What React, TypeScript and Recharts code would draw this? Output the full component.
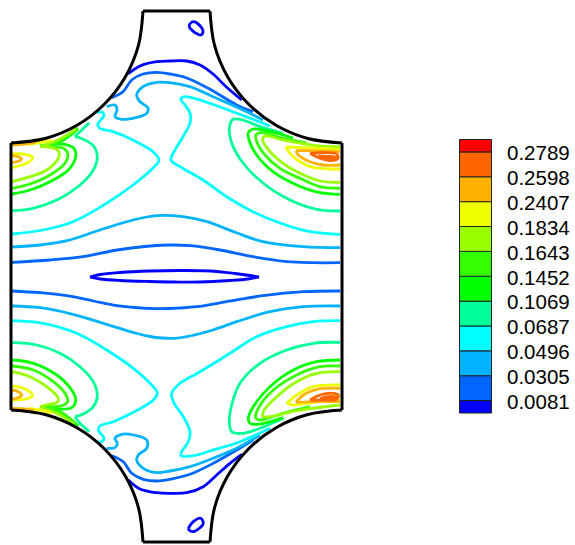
import React from 'react';
import { ScatterChart, Scatter, XAxis, YAxis, BarChart, Bar, Curve } from 'recharts';

type Pt = [number, number];

// contour level colours
const BLUE = '#0000ff';
const AZURE = '#0066ff';
const SKY = '#00b3ff';
const CYAN = '#00ffff';
const MINT = '#00ff99';
const GREEN = '#00ff00';
const LIME = '#33ff00';
const OLIVE = '#99ff00';
const YELLOW = '#eeff00';
const AMBER = '#ffb300';
const ORANGE = '#ff6600';
const RED = '#ff0000';

// colour bar
const barColors = [BLUE, AZURE, SKY, CYAN, MINT, GREEN, LIME, OLIVE, YELLOW, AMBER, ORANGE, RED];
const barBands = [0.5, 1, 1, 1, 1, 1, 1, 1, 1, 1, 1, 0.5];
const barLabels = ['0.0081', '0.0305', '0.0496', '0.0687', '0.1069', '0.1452', '0.1643', '0.1834', '0.2407', '0.2598', '0.2789'];
const barTicks = [0.5, 1.5, 2.5, 3.5, 4.5, 5.5, 6.5, 7.5, 8.5, 9.5, 10.5];

// outline of the domain, in the plot's own units
const rimTop: Pt[] = [[143, 11], [210, 11]];
const rimBottom: Pt[] = [[143, 542], [210, 542]];
const sideLeft: Pt[] = [[11, 143], [11, 410]];
const sideRight: Pt[] = [[342, 143], [342, 410]];
const arcTopLeft: Pt[] = [[143, 11], [138.5, 45.2], [125.3, 77], [104.3, 104.3], [77, 125.3], [45.2, 138.5], [11, 143]];
const arcTopRight: Pt[] = [[210, 11], [214.5, 45.2], [227.7, 77], [248.7, 104.3], [276, 125.3], [307.8, 138.5], [342, 143]];
const arcBottomLeft: Pt[] = [[143, 542], [138.5, 507.8], [125.3, 476], [104.3, 448.7], [77, 427.7], [45.2, 414.5], [11, 410]];
const arcBottomRight: Pt[] = [[210, 542], [214.5, 507.8], [227.7, 476], [248.7, 448.7], [276, 427.7], [307.8, 414.5], [342, 410]];

// centre lens
const lensTop: Pt[] = [[90, 277], [100, 274.5], [120, 272.5], [150, 271], [180, 270.5], [210, 271], [235, 273.5], [250, 275.5], [259, 277]];
const lensBottom: Pt[] = [[259, 277], [248, 279], [230, 280.5], [200, 282], [175, 282], [150, 281.5], [120, 280.5], [100, 279], [90, 277]];

// level 0.0081
const blueTop: Pt[] = [[128, 74], [140, 66], [156.7, 61.7], [170, 61], [186.7, 61], [200, 65], [213, 74], [226.7, 87.3], [241.7, 100]];
const blueBottom: Pt[] = [[128.3, 480], [140, 489], [156.7, 492.7], [170, 493.3], [186.7, 492.7], [203.3, 486.7], [216.7, 475], [230, 463.3], [241.7, 454.3]];
const loopTop: Pt[] = [[190, 28.3], [189.3, 25], [193.3, 21.7], [199.3, 25], [203, 31.7], [200.7, 35], [195, 32.7], [190, 28.3]];
const loopBottom: Pt[] = [[188.3, 528.3], [193.3, 521.7], [200.7, 518.3], [203.3, 523.3], [199.3, 528.3], [193.3, 531.7], [189, 530], [188.3, 528.3]];

// level 0.0305
const azureMidTop: Pt[] = [[12, 262.3], [50, 260], [83, 256.7], [117, 250], [150, 246], [170, 245], [190, 245.7], [220, 250], [253, 256.7], [287, 261.7], [313, 262.7], [340, 262.7]];
const azureMidBottom: Pt[] = [[12, 291], [40, 292.7], [66.7, 295.7], [93.3, 301], [116.7, 305.7], [146.7, 308.3], [170, 308.5], [196.7, 306.7], [226.7, 301.7], [263, 295.7], [303, 291.7], [340, 291]];
const azureTop: Pt[] = [[111.7, 97.7], [123, 91.7], [131.7, 80], [143, 74], [156.7, 72.3], [170, 74], [186.7, 78], [210, 89.3], [236.7, 105], [253, 111.7]];
const azureBottom: Pt[] = [[111.7, 455.7], [123.3, 461.7], [131.7, 473.3], [143.3, 479.3], [156.7, 481], [170, 479.3], [190, 474.3], [213.3, 463.3], [236.7, 450], [253.3, 440]];

// level 0.0496
const skyMidTop: Pt[] = [[12, 247], [40, 245], [67, 240.7], [100, 230], [133, 220], [157, 215.7], [183, 216.7], [207, 221.7], [237, 233], [263, 241.7], [303, 246.7], [340, 247.7]];
const skyMidBottom: Pt[] = [[12, 306], [40, 307.7], [73, 314.3], [106.7, 324.3], [135, 333], [150, 336.5], [162, 338], [175, 338.3], [190, 336], [213, 330], [236.7, 321.7], [270, 311.7], [303, 306.7], [340, 306]];
const skyTop: Pt[] = [[106.7, 106.7], [115, 105], [117, 110], [115, 116.7], [121.7, 119.3], [136.7, 117.3], [146.7, 113.3], [148, 108], [140, 101.7], [136.7, 95], [143, 86.7], [156.7, 82.3], [170, 82.7], [190, 86.7], [213, 96.7], [243, 110], [263, 120]];
const skyBottom: Pt[] = [[106.7, 448.3], [115, 447.7], [117.3, 443.3], [115, 438.3], [121.7, 434.3], [133.3, 435], [146.7, 440], [146.7, 448.3], [138.3, 455], [136.7, 460], [143.3, 468.3], [156.7, 472.7], [170, 471], [190, 466.7], [213, 458.3], [236.7, 448.3], [260, 435]];

// level 0.0687
const cyanTopLeft: Pt[] = [[12, 234], [43, 230], [73, 221.7], [107, 203], [133, 185], [153, 168], [159, 160], [153, 151.7], [133, 140], [113, 131.7], [100, 128.3], [97.7, 125], [104, 115], [101.7, 112], [97, 113]];
const cyanTopRight: Pt[] = [[340, 234.3], [310, 231.7], [280, 223], [253, 211.7], [226.7, 196.7], [203, 180], [180, 166.7], [171, 160], [175, 150], [183, 136.7], [190, 123], [190, 113], [185, 105], [180.7, 99], [185, 96.7], [203, 101], [237, 113.3], [270, 126]];
const cyanBottomLeft: Pt[] = [[12, 320.7], [43.3, 323.3], [76.7, 333.3], [106.7, 350], [133.3, 368.3], [153.3, 386.7], [157.3, 392.7], [153.3, 400], [133.3, 412.3], [113.3, 421.7], [100, 426], [98.3, 430], [104, 438.3], [101.7, 441.7], [96.7, 441.7]];
const cyanBottomRight: Pt[] = [[340, 320.7], [313, 321.7], [286.7, 326.7], [256.7, 336.7], [230, 353.3], [200, 371.7], [180, 383.3], [171.7, 393.3], [173.3, 401.7], [183.3, 416.7], [190, 431.7], [188.3, 441.7], [181.7, 451.7], [181, 455.7], [193.3, 455.7], [213.3, 450], [240, 441.7], [270, 428.3]];

// level 0.1069
const mintTopLeft: Pt[] = [[12, 210.7], [33, 208.3], [56.7, 200], [80, 185], [93.3, 170], [97.3, 156.7], [93.3, 145.7], [83.3, 139.3], [75, 136.7]];
const mintTopLeftTail: Pt[] = [[75, 136.7], [80, 131.7], [89.3, 122.7]];
const mintTopRight: Pt[] = [[340, 211], [316.7, 209.3], [290, 200], [263, 183], [243, 163], [231.7, 143], [229.3, 128.3], [233, 119.3], [243, 120], [260, 126.7], [283, 133.3]];
const mintBottomLeft: Pt[] = [[12, 342.7], [36.7, 345], [60, 353.3], [80, 366.7], [93.3, 381.7], [97.3, 396.7], [93.3, 406.7], [83.3, 414], [75, 416.7]];
const mintBottomLeftTail: Pt[] = [[75, 416.7], [80, 423.3], [89.3, 431.7]];
const mintBottomRight: Pt[] = [[340, 342.3], [313.3, 343.3], [286.7, 350], [260, 363.3], [240, 383.3], [231.7, 405], [229.3, 421.7], [231.7, 431.7], [243.3, 433.3], [260, 428.3], [283.3, 418.3]];

// level 0.1452
const greenTopLeft: Pt[] = [[12, 194], [30, 190], [50, 181.7], [68.3, 170], [75.7, 156.7], [74, 148.3], [65, 144.3], [50, 144.3], [40, 146]];
const greenTopLeftTail: Pt[] = [[40, 146], [60, 142], [78, 129]];
const greenTopRight: Pt[] = [[340, 194.3], [320, 192.7], [296.7, 185], [273, 171.7], [256.7, 155], [249, 140], [248.3, 132.7], [253.3, 129], [266.7, 130.7], [293, 138]];
const greenBottomLeft: Pt[] = [[12, 360], [33.3, 363.3], [56.7, 375], [71.7, 390], [75.7, 400], [71.7, 407.7], [56.7, 409], [40, 406.7]];
const greenBottomLeftTail: Pt[] = [[40, 406.7], [60, 411.7], [78.3, 426]];
const greenBottomRight: Pt[] = [[340, 360], [316.7, 361.7], [293.3, 370], [270, 386.7], [253.3, 406.7], [248.3, 418.3], [250, 423.3], [258.3, 424.3], [283.3, 417.7]];

// level 0.1643
const limeTopLeft: Pt[] = [[12, 188.3], [30, 184], [50, 175], [65, 163.3], [67.7, 153.3], [63.3, 148.3], [53.3, 146.7], [41.7, 146.7]];
const limeTopLeftTail: Pt[] = [[41.7, 146.7], [53, 144], [66, 136], [78, 128]];
const limeTopRight: Pt[] = [[340, 188.3], [320, 186.7], [300, 178.3], [280, 168.3], [265, 155], [256.7, 141.7], [256, 135], [261.7, 132.7], [283, 138.3], [306.7, 143]];
const limeBottomLeft: Pt[] = [[12, 366], [33.3, 370], [53.3, 381.7], [65, 393.3], [67.7, 401.7], [61.7, 405.7], [50, 406.7], [40, 406.7]];
const limeBottomLeftTail: Pt[] = [[40, 406.7], [54, 409], [66, 416], [77, 425]];
const limeBottomRight: Pt[] = [[340, 366], [316.7, 367.3], [296.7, 375], [273.3, 390], [258.3, 408.3], [255.7, 417.7], [260, 420], [283.3, 413.3], [310, 406.7]];

// level 0.1834
const oliveTopLeft: Pt[] = [[12, 181.7], [30, 176.7], [46.7, 170], [58.3, 158.3], [58.3, 150.7], [50, 147.3], [40, 146.7]];
const oliveTopLeftTail: Pt[] = [[40, 146.7], [60, 139], [76, 129]];
const oliveTopRight: Pt[] = [[340, 182.3], [320, 181], [300, 173.3], [283, 163.3], [270, 151.7], [262.7, 140], [265, 136], [283, 140], [316.7, 145.7], [340, 146.7]];
const oliveBottomLeft: Pt[] = [[12, 371.7], [30, 376.7], [46.7, 386.7], [58.3, 398.3], [57.3, 402.3], [50, 404], [40, 406.7]];
const oliveBottomLeftTail: Pt[] = [[40, 406.7], [58, 414], [74, 424]];
const oliveBottomRight: Pt[] = [[340, 371.7], [316.7, 373.3], [296.7, 381.7], [276.7, 396.7], [263.3, 411.7], [263.3, 416.7], [270, 416.7], [296.7, 410.7], [340, 405]];

// level 0.2407
const yellowTopLeft: Pt[] = [[12, 154], [23, 154], [32.7, 157.3], [28.3, 162.3], [18.3, 166], [12, 167.7]];
const yellowTopLeftEdge: Pt[] = [[28, 144.5], [40, 142.5], [52, 140.5]];
const yellowTopRight: Pt[] = [[340, 169], [313, 167.3], [300, 161.7], [290, 153.3], [286, 147]];
const yellowTopRightEdge: Pt[] = [[286, 147], [296.7, 147.3], [340, 149.3]];
const yellowBottomLeft: Pt[] = [[12, 386], [23.3, 388.3], [32.7, 395], [28.3, 398.3], [16.7, 400], [12, 400]];
const yellowBottomLeftEdge: Pt[] = [[28, 408.5], [40, 410], [52, 413]];
const yellowBottomRight: Pt[] = [[340, 385], [313.3, 386.7], [296.7, 395], [286.7, 403.3]];
const yellowBottomRightEdge: Pt[] = [[286.7, 403.3], [293.3, 405], [320, 401.7], [340, 400]];

// level 0.2598
const amberTopLeft: Pt[] = [[12, 155.7], [18.3, 156.7], [21.7, 159], [18.3, 161.3], [12, 162.7]];
const amberTopLeftEdge: Pt[] = [[12, 145], [24, 144], [36, 142]];
const amberTopRight: Pt[] = [[340, 165], [323, 165], [310, 161.7], [298.3, 155], [296, 150.7]];
const amberTopRightEdge: Pt[] = [[296, 150.7], [310, 150.7], [340, 151.7]];
const amberBottomLeft: Pt[] = [[12, 390], [18.3, 391.7], [21.7, 395], [16.7, 398.3], [12, 399]];
const amberBottomLeftEdge: Pt[] = [[12, 408.5], [24, 409], [34, 410.5]];
const amberBottomRight: Pt[] = [[340, 388.3], [316.7, 389.3], [303.3, 395], [296, 402.3]];
const amberBottomRightEdge: Pt[] = [[296, 402.3], [316.7, 401.7], [340, 401.7]];

// level 0.2789
const orangeTop: Pt[] = [[310, 153.3], [323, 152.7], [336.7, 154], [338, 158.3], [330, 160.7], [320, 158.3], [310, 153.3]];
const orangeTopInner: Pt[] = [[318, 156], [330, 156.5], [336, 157], [330, 159], [318, 156]];
const orangeBottom: Pt[] = [[310, 400], [320, 395], [333.3, 393.3], [338.3, 395], [336.7, 399.3], [323.3, 400], [310, 400]];
const orangeBottomInner: Pt[] = [[320, 398.5], [330, 396.5], [336, 397], [330, 399], [320, 398.5]];

const contours: [string, Pt[]][] = [
  [BLUE, lensTop], [BLUE, lensBottom], [BLUE, blueTop], [BLUE, blueBottom], [BLUE, loopTop], [BLUE, loopBottom],
  [AZURE, azureMidTop], [AZURE, azureMidBottom], [AZURE, azureTop], [AZURE, azureBottom],
  [SKY, skyMidTop], [SKY, skyMidBottom], [SKY, skyTop], [SKY, skyBottom],
  [CYAN, cyanTopLeft], [CYAN, cyanTopRight], [CYAN, cyanBottomLeft], [CYAN, cyanBottomRight],
  [MINT, mintTopLeft], [MINT, mintTopLeftTail], [MINT, mintTopRight], [MINT, mintBottomLeft], [MINT, mintBottomLeftTail], [MINT, mintBottomRight],
  [GREEN, greenTopLeft], [GREEN, greenTopLeftTail], [GREEN, greenTopRight], [GREEN, greenBottomLeft], [GREEN, greenBottomLeftTail], [GREEN, greenBottomRight],
  [LIME, limeTopLeft], [LIME, limeTopLeftTail], [LIME, limeTopRight], [LIME, limeBottomLeft], [LIME, limeBottomLeftTail], [LIME, limeBottomRight],
  [OLIVE, oliveTopLeft], [OLIVE, oliveTopLeftTail], [OLIVE, oliveTopRight], [OLIVE, oliveBottomLeft], [OLIVE, oliveBottomLeftTail], [OLIVE, oliveBottomRight],
  [YELLOW, yellowTopLeft], [YELLOW, yellowTopLeftEdge], [YELLOW, yellowTopRight], [YELLOW, yellowTopRightEdge], [YELLOW, yellowBottomLeft], [YELLOW, yellowBottomLeftEdge], [YELLOW, yellowBottomRight], [YELLOW, yellowBottomRightEdge],
  [AMBER, amberTopLeft], [AMBER, amberTopLeftEdge], [AMBER, amberTopRight], [AMBER, amberTopRightEdge], [AMBER, amberBottomLeft], [AMBER, amberBottomLeftEdge], [AMBER, amberBottomRight], [AMBER, amberBottomRightEdge],
  [ORANGE, orangeTop], [ORANGE, orangeTopInner], [ORANGE, orangeBottom], [ORANGE, orangeBottomInner],
];

const frame: Pt[][] = [rimTop, rimBottom, sideLeft, sideRight, arcTopLeft, arcTopRight, arcBottomLeft, arcBottomRight];

const toRows = (pts: Pt[]) => pts.map(([x, y]) => ({ x, y }));
const noDot = () => null;

// centripetal Catmull-Rom: the read points are unevenly spaced and "natural" kinks on that
const centripetal = (ctx: any) => {
  let pts: Pt[] = [];
  return {
    areaStart() {},
    areaEnd() {},
    lineStart() { pts = []; },
    point(x: number, y: number) { pts.push([x, y]); },
    lineEnd() {
      const dist = (a: Pt, b: Pt) => Math.sqrt(Math.hypot(a[0] - b[0], a[1] - b[1]));
      pts.forEach((p1, i) => {
        if (i === 0) { ctx.moveTo(p1[0], p1[1]); return; }
        const a = pts[i - 1];
        const before = pts[i - 2] || a;
        const after = pts[i + 1] || p1;
        const d1 = dist(before, a);
        const d2 = dist(a, p1);
        const d3 = dist(p1, after);
        const ctrl = (k: number) => {
          const c1 = d1 === 0 ? a[k] : (d1 * d1 * p1[k] - d2 * d2 * before[k] + (2 * d1 * d1 + 3 * d1 * d2 + d2 * d2) * a[k]) / (3 * d1 * (d1 + d2));
          const c2 = d3 === 0 ? p1[k] : (d3 * d3 * a[k] - d2 * d2 * after[k] + (2 * d3 * d3 + 3 * d3 * d2 + d2 * d2) * p1[k]) / (3 * d3 * (d3 + d2));
          return [c1, c2];
        };
        const [x1, x2] = ctrl(0);
        const [y1, y2] = ctrl(1);
        ctx.bezierCurveTo(x1, y1, x2, y2, p1[0], p1[1]);
      });
    },
  };
};

const smoothLine = (stroke: string, strokeWidth: number) => (props: any) => (
  <Curve points={props.points} type={centripetal as any} stroke={stroke} strokeWidth={strokeWidth} fill="none" strokeLinejoin="round" />
);

const barRow: Record<string, number | string> = { name: 'levels' };
barBands.forEach((b, i) => { barRow['b' + i] = b; });

export default function App() {
  return (
    <div style={{ position: 'absolute', left: 0, top: 0, width: 575, height: 545 }}>
      <div style={{ position: 'absolute', left: 0, top: 0 }}>
        <ScatterChart width={575} height={545} margin={{ top: 0, right: 0, bottom: 0, left: 0 }}>
          <XAxis type="number" dataKey="x" domain={[0, 575]} hide />
          <YAxis type="number" dataKey="y" domain={[0, 545]} reversed hide />
          {contours.map(([color, pts], i) => (
            <Scatter key={'c' + i} data={toRows(pts)} shape={noDot} isAnimationActive={false}
              line={smoothLine(color, 2.8)} lineType="joint" />
          ))}
          {frame.map((pts, i) => (
            <Scatter key={'f' + i} data={toRows(pts)} shape={noDot} isAnimationActive={false}
              line={smoothLine('#000', 3)} lineType="joint" />
          ))}
        </ScatterChart>
      </div>
      <div style={{ position: 'absolute', left: 0, top: 0 }}>
        <BarChart width={575} height={545} data={[barRow]} barCategoryGap={0}
          margin={{ top: 139.5, right: 0, bottom: 132, left: 459.5 }}>
          <XAxis dataKey="name" hide />
          <YAxis orientation="right" width={84} type="number" domain={[0, 11]} ticks={barTicks} interval={0}
            axisLine={false} tickLine={false} tickMargin={10} dy={1}
            tick={{ fill: '#000', fontSize: 20.5, fontFamily: 'Liberation Sans', textAnchor: 'start' }}
            tickFormatter={(v: number) => barLabels[barTicks.indexOf(v)]} />
          {barBands.map((_, i) => (
            <Bar key={i} dataKey={'b' + i} stackId="bar" fill={barColors[i]} stroke="#222" strokeWidth={1} isAnimationActive={false} />
          ))}
        </BarChart>
      </div>
    </div>
  );
}
